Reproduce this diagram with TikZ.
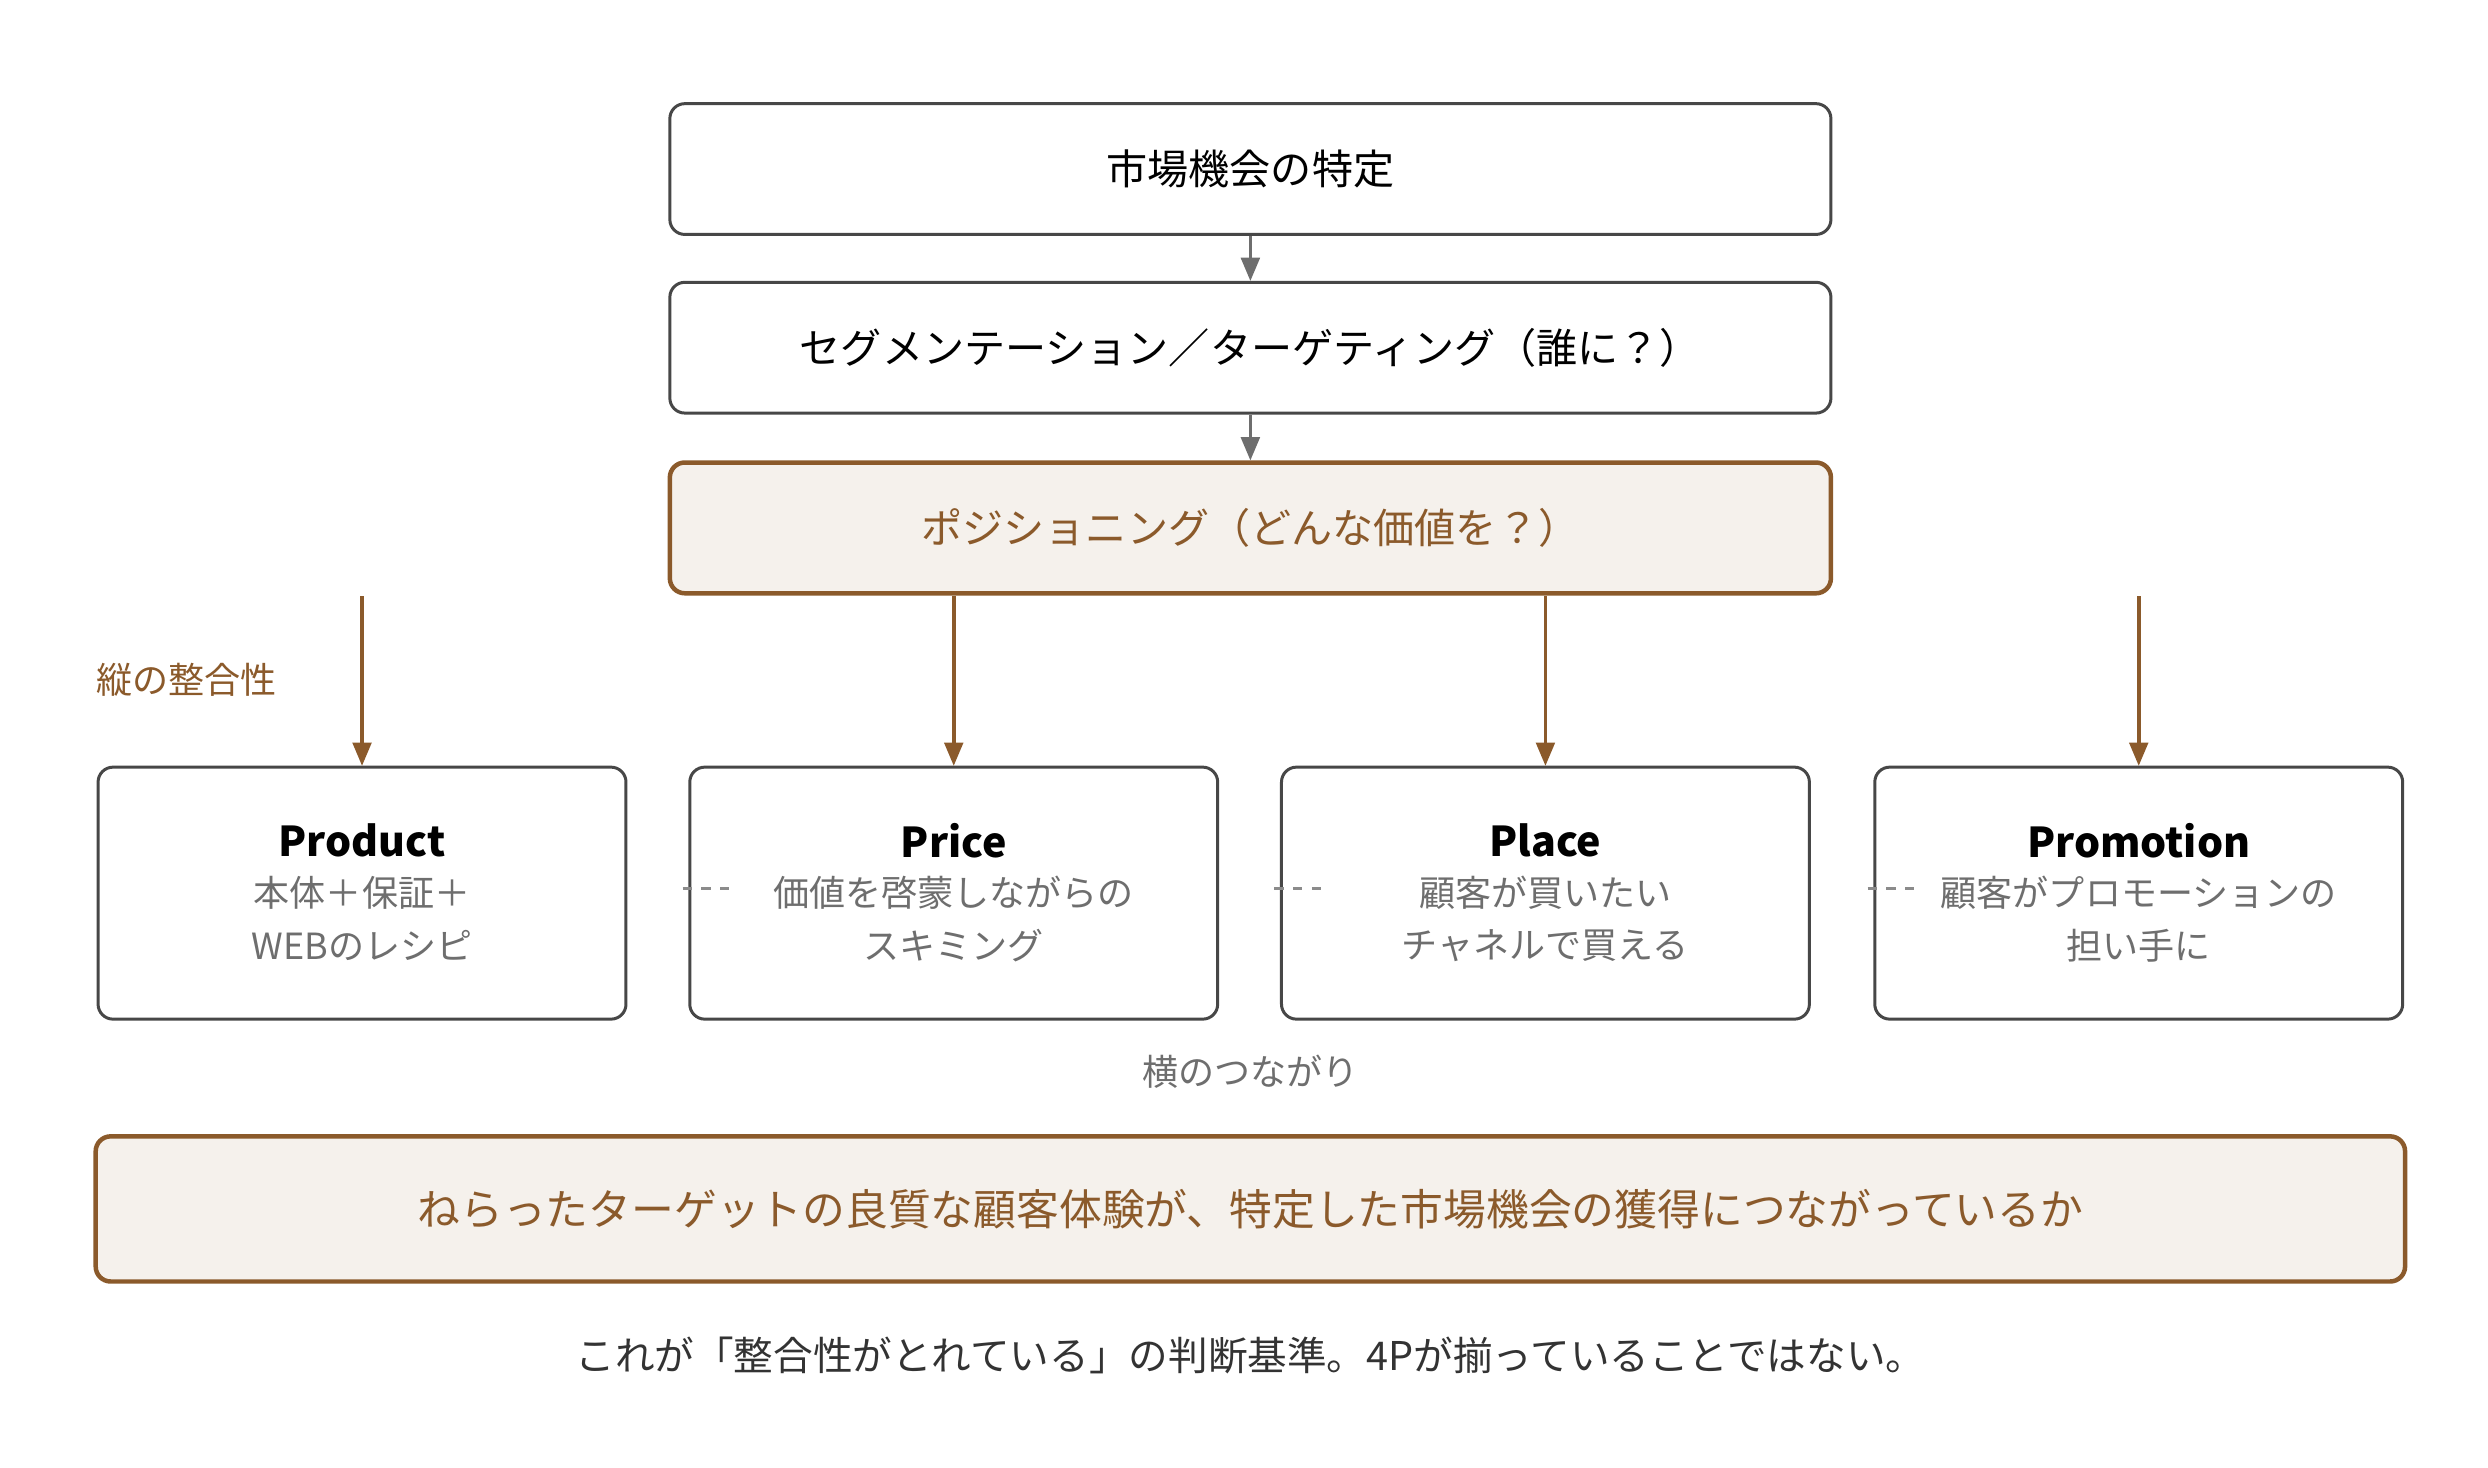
\documentclass[tikz,border=0pt]{standalone}
\usepackage{fontspec}
\setmainfont{Noto Sans CJK JP}
\usetikzlibrary{positioning, arrows, shapes}
\definecolor{brn}{HTML}{8B5A2B}
\definecolor{brnfill}{HTML}{F5F1EC}
\definecolor{gtxt}{HTML}{6E6E6E}
\definecolor{dtxt}{HTML}{333333}
\newlength\pu
\setlength\pu{0.03cm}
\begin{document}
\begin{tikzpicture}[x=0.03cm,y=-0.03cm,
  box/.style={draw=dtxt!90, line width=1.6pt, rounded corners=8pt, fill=white},
  keybox/.style={draw=brn, line width=2.4pt, rounded corners=8pt, fill=brnfill, text=brn},
  arr/.style={-triangle 45, line width=1.9pt},
  font=\fontsize{19.3}{26}\selectfont]
\useasboundingbox (0,0) rectangle (1560,920);
% upper chain
\node[box, minimum width=728\pu, minimum height=82\pu, font=\fontsize{22}{26}\selectfont] (market) at (784,106) {市場機会の特定};
\node[box, minimum width=728\pu, minimum height=82\pu, font=\fontsize{22}{26}\selectfont] (seg) at (784,218) {セグメンテーション／ターゲティング（誰に？）};
\node[keybox, minimum width=728\pu, minimum height=82\pu, font=\fontsize{22}{26}\selectfont] (pos) at (784,331) {ポジショニング（どんな価値を？）};
\draw[arr, gtxt] (market) -- (seg);
\draw[arr, gtxt] (seg) -- (pos);
% the 4P
\foreach \n/\x/\t/\a/\b in {prod/227/Product/本体＋保証＋/WEBのレシピ,
    price/598/Price/価値を啓蒙しながらの/スキミング,
    place/969/Place/顧客が買いたい/チャネルで買える,
    promo/1341/Promotion/顧客がプロモーションの/担い手に}{
  \node[box, minimum width=331\pu, minimum height=158\pu] (\n) at (\x,560) {};
  \node[font=\fontsize{22}{26}\bfseries\selectfont] (\n t) at (\x,527) {\t};
  \node[text=gtxt] (\n a) at (\x,560) {\a};
  \node[text=gtxt] (\n b) at (\x,593) {\b};
  \coordinate (\n top) at (\x,374);
  \draw[arr, brn] (\n top) -- (\n);
}
\foreach \n in {price,place,promo}{
  \coordinate (\n d) at ([yshift=3\pu]\n.west);
  \draw[gtxt!80, line width=1.3pt, dash pattern=on 5pt off 5pt] ([xshift=-3pt]\n d) -- ++(32,0);
}
\node[text=brn] (vert) at (117,426) {縦の整合性};
\node[text=gtxt] (horiz) at (784,672) {横のつながり};
% goal
\node[keybox, minimum width=1448\pu, minimum height=91\pu, font=\fontsize{22.9}{26}\selectfont] (goal) at (784,758) {ねらったターゲットの良質な顧客体験が、特定した市場機会の獲得につながっているか};
\node[text=dtxt, font=\fontsize{21.2}{26}\selectfont] (note) at (784,850) {これが「整合性がとれている」の判断基準。4Pが揃っていることではない。};
\end{tikzpicture}
\end{document}
